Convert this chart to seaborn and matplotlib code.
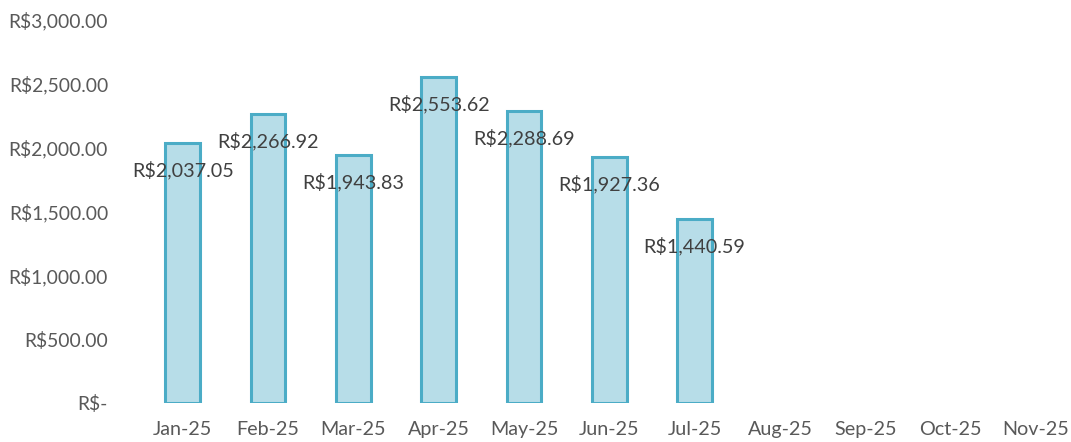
"""Monthly amounts in R$, bar chart with value labels."""
import matplotlib
matplotlib.use('Agg')
import matplotlib.pyplot as plt
from matplotlib.ticker import FuncFormatter
import pandas as pd
import seaborn as sns

# data
months = ['Jan-25', 'Feb-25', 'Mar-25', 'Apr-25', 'May-25', 'Jun-25',
          'Jul-25', 'Aug-25', 'Sep-25', 'Oct-25', 'Nov-25']
filled_months = months[:7]
amounts = [2037.05, 2266.92, 1943.83, 2553.62, 2288.69, 1927.36, 1440.59]
y_ticks = [0, 500, 1000, 1500, 2000, 2500, 3000]

sns.set_style('white')
plt.rcParams['font.family'] = ['Lato', 'DejaVu Sans']

figure = plt.figure(figsize=(10.71, 4.42), dpi=100)
axes = figure.add_axes([140 / 1071, 39 / 442, 1 - 140 / 1071, 383 / 442])

df = pd.DataFrame({'month': filled_months, 'amount': amounts})
sns.barplot(data=df, x='month', y='amount', order=months, ax=axes,
            color='#b7dde8', saturation=1, edgecolor='#4bacc6',
            linewidth=2.2, width=0.41)


def brl(value):
    if value == 0:
        return 'R$-'
    return f'R${value:,.2f}'


axes.set_ylim(0, 3000)
axes.set_xlim(-0.5, 10.41)
axes.set_yticks(y_ticks)
axes.yaxis.set_major_formatter(FuncFormatter(lambda v, p: brl(v)))
axes.set(xlabel='', ylabel='')
axes.tick_params(axis='y', length=0, pad=23, labelsize=13.9, labelcolor='#595959')
axes.tick_params(axis='x', length=0, pad=13, labelsize=14.2, labelcolor='#595959')
sns.despine(ax=axes, left=True, bottom=True)

# value labels, a little below the top of each bar
for bar, amount in zip(axes.patches, amounts):
    axes.annotate(brl(amount), (bar.get_x() + bar.get_width() / 2, amount),
                  xytext=(0, -19.5), textcoords='offset points',
                  ha='center', va='center', fontsize=14.2, color='#404040')

figure.savefig('out.png', dpi=100)
